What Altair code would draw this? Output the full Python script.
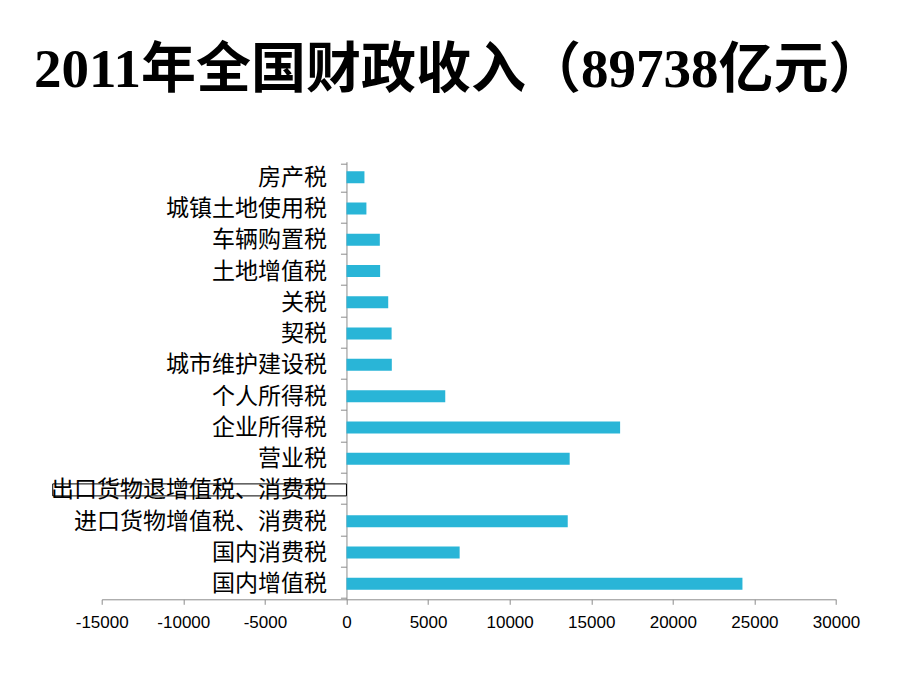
import altair as alt
import pandas as pd

categories = ["房产税", "城镇土地使用税", "车辆购置税", "土地增值税", "关税", "契税",
              "城市维护建设税", "个人所得税", "企业所得税", "营业税",
              "出口货物退增值税、消费税", "进口货物增值税、消费税", "国内消费税", "国内增值税"]
values = [1102, 1222, 2044, 2063, 2559, 2766, 2779, 6054, 16770, 13679,
          -18000, 13560, 6936, 24267]
x_ticks = [-15000, -10000, -5000, 0, 5000, 10000, 15000, 20000, 25000, 30000]
title_text = "2011年全国财政收入（89738亿元）"

df = pd.DataFrame({"tax": categories, "value": values})

W = 734.3
H = 437.6
PAD_L = 101.7
PAD_T = 161.7

x_enc = alt.X("value:Q",
              scale=alt.Scale(domain=[-15000, 30000], nice=False, zero=False),
              axis=alt.Axis(values=x_ticks, title=None, grid=False,
                            labelExpr="'' + datum.value",
                            domainColor="#8c8c8c", tickColor="#8c8c8c",
                            tickSize=5, labelPadding=10, labelFontSize=17,
                            labelFont="Liberation Sans", labelColor="black",
                            labelFlush=False, labelOverlap=False))
y_enc = alt.Y("tax:N", sort=categories,
              axis=alt.Axis(title=None, orient="left", offset=-W / 3,
                            tickBand="extent", tickSize=6, tickColor="#8c8c8c",
                            domainColor="#8c8c8c", labelPadding=14,
                            labelFontSize=23, labelFont="Noto Sans CJK SC",
                            labelColor="black", labelLimit=500))

base = alt.Chart(df)

pos_bars = base.transform_filter("datum.value >= 0").mark_bar(
    size=12, color="#29b5d7", clip=False
).encode(x=x_enc, y=y_enc)

neg_bars = base.transform_filter("datum.value < 0").mark_bar(
    size=12, fill="white", fillOpacity=0, stroke="black", strokeWidth=1, clip=False
).encode(x="value:Q", y=alt.Y("tax:N", sort=categories))

title_layer = alt.Chart(pd.DataFrame({"t": [title_text]})).mark_text(
    align="left", baseline="alphabetic", fontSize=55, fontWeight="bold",
    font="Liberation Serif, Noto Sans CJK SC", color="black"
).encode(text="t:N", x=alt.value(34 - PAD_L), y=alt.value(87 - PAD_T))

chart = alt.layer(pos_bars, neg_bars, title_layer).properties(
    width=W, height=H,
    autosize=alt.AutoSizeParams(type="none"),
    padding={"left": PAD_L, "top": PAD_T, "right": 920 - PAD_L - W, "bottom": 690 - PAD_T - H},
    background="white",
).configure_view(stroke=None)

chart.save("out.html", embed_options={"renderer": "svg", "actions": False})
